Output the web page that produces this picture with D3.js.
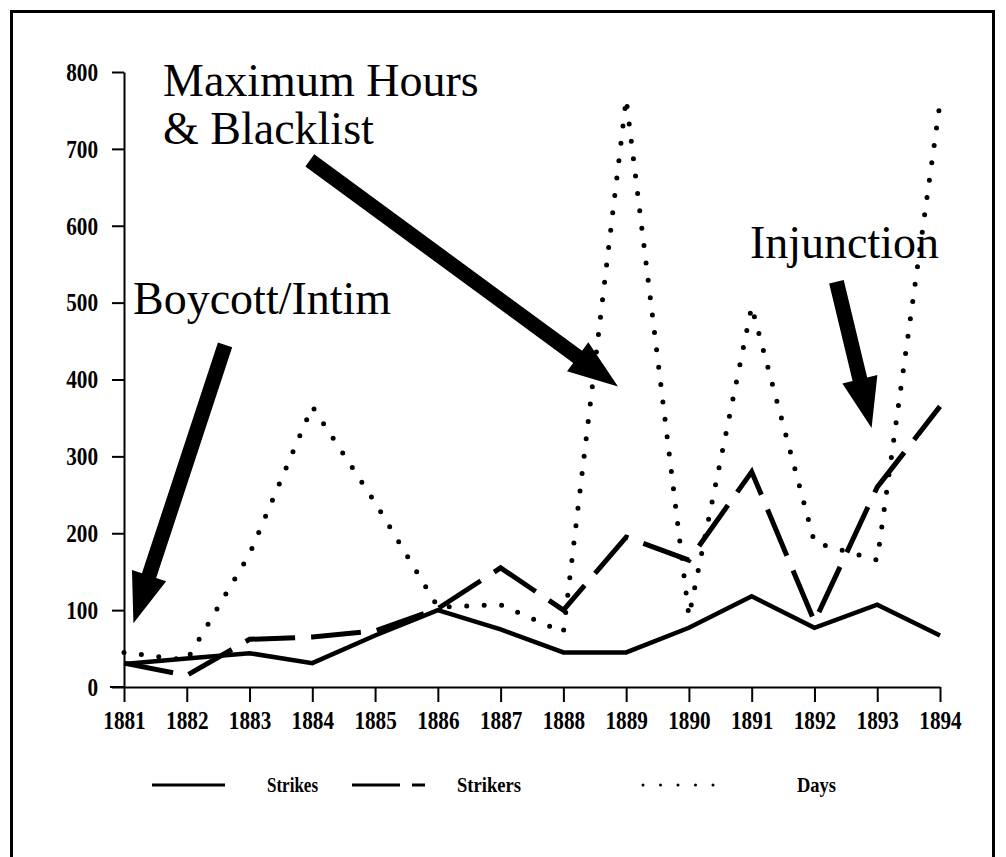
<!DOCTYPE html>
<html>
<head>
<meta charset="utf-8">
<script src="https://cdn.jsdelivr.net/npm/d3@7"></script>
<style>
  body { margin: 0; background: #fff; }
  svg { display: block; }
</style>
</head>
<body>
<div id="chart"></div>
<script>
// données
const years = [1881, 1882, 1883, 1884, 1885, 1886, 1887, 1888, 1889, 1890, 1891, 1892, 1893, 1894];
const strikes = [30, 37, 44, 31, 67, 100, 75, 45, 45, 77, 118, 77, 107, 67];
const strikers = [31, 15, 62, 65, 73, 102, 155, 100, 195, 165, 280, 85, 260, 365];
const days = [45, 35, 173, 365, 240, 104, 107, 71, 765, 92, 495, 188, 165, 760];
const yTicks = [0, 100, 200, 300, 400, 500, 600, 700, 800];
const seriesNames = ["Strikes", "Strikers", "Days"];

// annotations : texte + flèche (année, valeur)
const notes = [
  { lines: ["Maximum Hours", "& Blacklist"], x0: 1883.96, v0: 685, x1: 1888.87, v1: 391 },
  { lines: ["Boycott/Intim"], x0: 1882.61, v0: 445, x1: 1881.15, v1: 83 },
  { lines: ["Injunction"], x0: 1892.35, v0: 527, x1: 1892.91, v1: 337 }
];

const W = 1006, H = 857;
const svg = d3.select("#chart").append("svg")
  .attr("width", W).attr("height", H);

// cadre
svg.append("rect")
  .attr("x", 11.5).attr("y", 11.5)
  .attr("width", 982).attr("height", 870)
  .attr("fill", "none").attr("stroke", "#000").attr("stroke-width", 3);

const x = d3.scaleLinear().domain([1881, 1894]).range([124, 940]);
const y = d3.scaleLinear().domain([0, 800]).range([687, 72]);

const serif = "'Liberation Serif', 'Times New Roman', serif";

// axe y
const gy = svg.append("g")
  .attr("transform", "translate(" + x(1881) + ",0)")
  .call(d3.axisLeft(y).tickValues(yTicks).tickSize(12).tickSizeOuter(0).tickPadding(14));
// axe x
const gx = svg.append("g")
  .attr("transform", "translate(0," + y(0) + ")")
  .call(d3.axisBottom(x).tickValues(years).tickSize(15).tickSizeOuter(0).tickPadding(9).tickFormat(d3.format("d")));

[gy, gx].forEach(g => {
  g.attr("font-family", null);
  g.select(".domain").attr("stroke", "#000").attr("stroke-width", 2);
  g.selectAll(".tick line").attr("stroke", "#000").attr("stroke-width", 2);
  g.selectAll(".tick text")
    .attr("fill", "#000")
    .style("font-family", serif)
    .style("font-weight", "bold")
    .style("font-size", "26px")
    .attr("textLength", function () { return this.textContent.length * 10.6; })
    .attr("lengthAdjust", "spacingAndGlyphs");
});
// prolonge l'axe x à gauche de l'axe y
svg.append("line")
  .attr("x1", x(1881) - 14).attr("x2", x(1881))
  .attr("y1", y(0)).attr("y2", y(0))
  .attr("stroke", "#000").attr("stroke-width", 2);

// courbes
const line = d3.line().x((d, i) => x(years[i])).y(d => y(d));
const styles = [
  { data: strikes, dash: null, w: 4.5, cap: "butt" },
  { data: strikers, dash: "50,16", w: 5, cap: "butt" },
  { data: days, dash: "0,17.5", w: 5, cap: "round" }
];
styles.forEach(s => {
  svg.append("path")
    .datum(s.data)
    .attr("d", line)
    .attr("fill", "none")
    .attr("stroke", "#000")
    .attr("stroke-width", s.w)
    .attr("stroke-linecap", s.cap)
    .attr("stroke-linejoin", "miter")
    .attr("stroke-dasharray", s.dash);
});

// flèches
function arrow(x0, y0, x1, y1) {
  const dx = x1 - x0, dy = y1 - y0, L = Math.hypot(dx, dy);
  const ux = dx / L, uy = dy / L, nx = -uy, ny = ux;
  const sw = 7.5, hw = 18, hl = 50;
  const bx = x1 - ux * hl, by = y1 - uy * hl;
  const pts = [
    [x0 + nx * sw, y0 + ny * sw],
    [bx + nx * sw, by + ny * sw],
    [bx + nx * hw, by + ny * hw],
    [x1, y1],
    [bx - nx * hw, by - ny * hw],
    [bx - nx * sw, by - ny * sw],
    [x0 - nx * sw, y0 - ny * sw]
  ];
  return "M" + pts.map(p => p.join(",")).join("L") + "Z";
}
notes.forEach(n => {
  svg.append("path")
    .attr("d", arrow(x(n.x0), y(n.v0), x(n.x1), y(n.v1)))
    .attr("fill", "#000");
});

// textes des annotations
const labelPos = [[163, 96], [133, 314], [750, 258]];
notes.forEach((n, i) => {
  const t = svg.append("text")
    .attr("x", labelPos[i][0]).attr("y", labelPos[i][1])
    .style("font-family", serif)
    .style("font-size", "46px")
    .attr("fill", "#000");
  n.lines.forEach((l, j) => {
    t.append("tspan").attr("x", labelPos[i][0]).attr("dy", j === 0 ? 0 : 48).text(l);
  });
});

// légende
const legY = 785;
const leg = [
  { x: 152, dash: null, cap: "butt", tx: 267, w: 51 },
  { x: 352, dash: "48,12,13,200", cap: "butt", tx: 457, w: 64 },
  { x: 643, dash: "0,17.5", cap: "round", tx: 797, w: 39 }
];
leg.forEach((l, i) => {
  svg.append("line")
    .attr("x1", l.x).attr("x2", l.x + 73)
    .attr("y1", legY).attr("y2", legY)
    .attr("stroke", "#000")
    .attr("stroke-width", 3)
    .attr("stroke-linecap", l.cap)
    .attr("stroke-dasharray", l.dash);
  svg.append("text")
    .attr("x", l.tx).attr("y", legY + 7)
    .style("font-family", serif)
    .style("font-weight", "bold")
    .style("font-size", "22px")
    .attr("textLength", l.w)
    .attr("lengthAdjust", "spacingAndGlyphs")
    .attr("fill", "#000")
    .text(seriesNames[i]);
});
</script>
</body>
</html>
